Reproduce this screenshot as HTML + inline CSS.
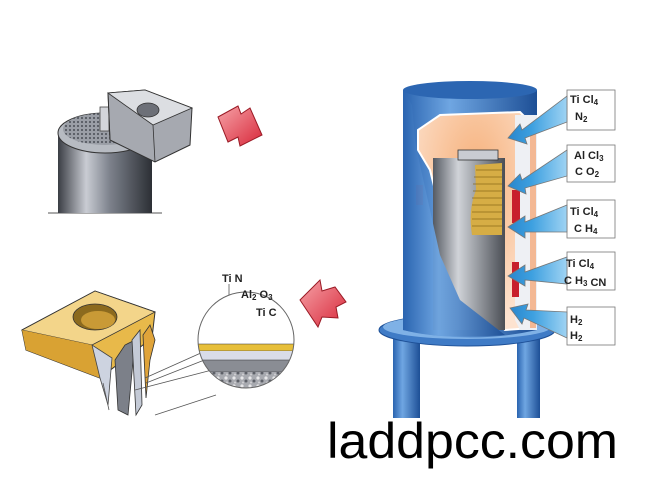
<!DOCTYPE html>
<html><head><meta charset="utf-8"><style>
html,body{margin:0;padding:0;background:#fff;}
svg{display:block}
text{font-family:"Liberation Sans",Arial,sans-serif;}
</style></head><body>
<svg width="650" height="488" viewBox="0 0 650 488" xmlns="http://www.w3.org/2000/svg">
<defs>
<linearGradient id="cyl" x1="0" x2="1" y1="0" y2="0">
<stop offset="0" stop-color="#3a3d44"/><stop offset="0.3" stop-color="#c9ccd3"/><stop offset="0.55" stop-color="#7d828c"/><stop offset="1" stop-color="#2c2f35"/></linearGradient>
<linearGradient id="blue" x1="0" x2="1"><stop offset="0" stop-color="#2a64b0"/><stop offset="0.35" stop-color="#6fa6e2"/><stop offset="1" stop-color="#1d4f96"/></linearGradient>
<linearGradient id="gray" x1="0" x2="1"><stop offset="0" stop-color="#555a62"/><stop offset="0.35" stop-color="#d0d3d8"/><stop offset="1" stop-color="#4a4e55"/></linearGradient>
<linearGradient id="arr" x1="1" x2="0"><stop offset="0" stop-color="#9fd3f3"/><stop offset="0.6" stop-color="#3da0e0"/><stop offset="1" stop-color="#2a86cc"/></linearGradient>
<linearGradient id="red" x1="0" x2="1" y1="0" y2="1"><stop offset="0" stop-color="#f6a3a8"/><stop offset="1" stop-color="#d8283a"/></linearGradient>
<radialGradient id="org" cx="0.5" cy="0.3" r="0.7"><stop offset="0" stop-color="#f6b07a"/><stop offset="1" stop-color="#fde3d0"/></radialGradient>
<pattern id="mesh" width="4" height="4" patternUnits="userSpaceOnUse"><rect width="4" height="4" fill="#9a9ea6"/><circle cx="2" cy="2" r="1" fill="#4a4e56"/></pattern>
<pattern id="grain" width="8" height="8" patternUnits="userSpaceOnUse"><rect width="8" height="8" fill="#a8aab0"/><circle cx="2" cy="2" r="1.6" fill="#e8e8ea"/><circle cx="6" cy="5" r="1.5" fill="#5d6068"/><circle cx="3" cy="6.5" r="1" fill="#d0d0d4"/></pattern>
<clipPath id="cc"><circle cx="246" cy="340" r="48"/></clipPath>
</defs>

<!-- top-left tool holder -->
<line x1="48" y1="213" x2="162" y2="213" stroke="#555" stroke-width="1"/>
<path d="M58 133 L58 213 L152 213 L152 133 Z" fill="url(#cyl)"/>
<ellipse cx="105" cy="133" rx="47" ry="20" fill="#b7bbc2" stroke="#333" stroke-width="1"/>
<ellipse cx="105" cy="129" rx="42" ry="16" fill="url(#mesh)"/>
<rect x="100" y="107" width="9" height="24" fill="#d3d5da" stroke="#444" stroke-width="0.8"/>
<path d="M108 93 L145 90 L192 108 L190 145 L155 162 L110 140 Z" fill="#a6a9b0" stroke="#333" stroke-width="1"/>
<path d="M108 93 L145 90 L192 108 L153 125 Z" fill="#dcdee2" stroke="#333" stroke-width="0.8"/>
<path d="M153 125 L155 162 M108 93 L110 140" stroke="#333" stroke-width="0.8" fill="none"/>
<ellipse cx="148" cy="110" rx="11" ry="7" fill="#6d7078" stroke="#333" stroke-width="0.8"/>
<path d="M218 117 L238 106 L241 114 L250 108 L262 135 L240 146 L238 137 L228 142 Z" fill="url(#red)" stroke="#9a1a25" stroke-width="1"/>

<!-- furnace -->
<rect x="393" y="330" width="27" height="88" fill="url(#blue)"/>
<rect x="517" y="330" width="23" height="88" fill="url(#blue)"/>
<ellipse cx="467" cy="330" rx="88" ry="16" fill="#3f7bc6" stroke="#1d4f96" stroke-width="1"/>
<ellipse cx="467" cy="327" rx="84" ry="12" fill="#7fb1e6"/>
<path d="M403 90 L403 330 Q470 345 537 330 L537 90 Z" fill="url(#blue)"/>
<ellipse cx="470" cy="90" rx="67" ry="9" fill="#2c66b2"/>
<path d="M418 130 L440 115 L520 112 L533 125 L533 328 L505 330 L470 300 L450 250 L430 170 L418 150 Z" fill="url(#org)" stroke="#fff" stroke-width="2"/>
<path d="M515 115 L537 115 L537 330 L520 330 L515 320 Z" fill="#eef0f4"/>
<path d="M533 125 L533 328" stroke="#f3b894" stroke-width="6"/>
<rect x="416" y="185" width="7" height="20" fill="#c8202c"/>
<rect x="512" y="190" width="8" height="33" fill="#c8202c"/>
<rect x="512" y="262" width="7" height="35" fill="#c8202c"/>
<rect x="433" y="158" width="72" height="172" fill="url(#gray)"/>
<rect x="458" y="150" width="40" height="10" fill="#c9ccd2" stroke="#333" stroke-width="0.8"/>
<path d="M475 165 L502 163 L502 235 L472 235 Q468 210 476 190 Z" fill="#d6ad45"/>
<g stroke="#8a6a1a" stroke-width="0.8">
<line x1="476" y1="170" x2="502" y2="170"/><line x1="474" y1="177" x2="502" y2="177"/><line x1="473" y1="184" x2="502" y2="184"/><line x1="473" y1="191" x2="502" y2="191"/><line x1="472" y1="198" x2="502" y2="198"/><line x1="472" y1="205" x2="502" y2="205"/><line x1="472" y1="212" x2="502" y2="212"/><line x1="472" y1="219" x2="502" y2="219"/><line x1="472" y1="226" x2="502" y2="226"/></g>
<path d="M403 90 L403 330 Q440 340 505 335 L460 300 L440 255 L420 165 L415 140 L412 105 Z" fill="url(#blue)" opacity="0.95"/>

<!-- gas labels -->
<g stroke="#777" stroke-width="0.8">
<rect x="567" y="90" width="48" height="40" fill="#fff"/>
<rect x="567" y="145" width="48" height="37" fill="#fff"/>
<rect x="567" y="200" width="48" height="38" fill="#fff"/>
<rect x="567" y="252" width="48" height="38" fill="#fff"/>
<rect x="567" y="307" width="48" height="38" fill="#fff"/>
<path d="M567 96 L567 122 L525 138 L527 144 L508 138 L520 124 L522 130 Z" fill="url(#arr)"/>
<path d="M567 150 L567 176 L525 188 L526 194 L508 186 L520 174 L522 180 Z" fill="url(#arr)"/>
<path d="M567 205 L567 232 L525 232 L525 238 L508 227 L525 216 L525 222 Z" fill="url(#arr)"/>
<path d="M567 257 L567 284 L525 280 L525 286 L508 276 L525 265 L525 272 Z" fill="url(#arr)"/>
<path d="M567 312 L567 338 L524 318 L522 324 L510 308 L528 304 L526 310 Z" fill="url(#arr)"/>
</g>
<g font-size="11" font-weight="bold" fill="#222">
<text x="570" y="103">Ti Cl<tspan font-size="8" dy="2">4</tspan></text><text x="575" y="120">N<tspan font-size="8" dy="2">2</tspan></text>
<text x="574" y="159">Al Cl<tspan font-size="8" dy="2">3</tspan></text><text x="575" y="175">C O<tspan font-size="8" dy="2">2</tspan></text>
<text x="570" y="215">Ti Cl<tspan font-size="8" dy="2">4</tspan></text><text x="574" y="232">C H<tspan font-size="8" dy="2">4</tspan></text>
<text x="566" y="267">Ti Cl<tspan font-size="8" dy="2">4</tspan></text><text x="564" y="284">C H<tspan font-size="8" dy="2">3</tspan> CN</text>
<text x="570" y="323">H<tspan font-size="8" dy="2">2</tspan></text><text x="570" y="339">H<tspan font-size="8" dy="2">2</tspan></text>
</g>

<path d="M300 300 L320 280 L322 291 L335 287 L346 302 L336 307 L338 318 L322 317 L318 327 Z" fill="url(#red)" stroke="#9a1a25" stroke-width="1"/>

<!-- bottom-left insert -->
<path d="M22 330 L95 291 L155 312 L152 338 L100 378 L26 350 Z" fill="#e8b94a" stroke="#333" stroke-width="1"/>
<path d="M22 330 L95 291 L155 312 L92 345 Z" fill="#f3d58a" stroke="#333" stroke-width="0.8"/>
<path d="M26 350 L22 330 L92 345 L100 378 Z" fill="#d9a233"/>
<ellipse cx="95" cy="317" rx="22" ry="13" fill="#8c6a1e" stroke="#333" stroke-width="0.8"/>
<ellipse cx="98" cy="320" rx="17" ry="9" fill="#c99a36"/>
<path d="M92 345 L100 378 L108 405 L112 358 Z" fill="#cdd3e0" stroke="#444" stroke-width="0.8"/>
<path d="M115 360 L125 345 L135 340 L128 415 L118 410 Z" fill="#7c8089" stroke="#333" stroke-width="0.8"/>
<path d="M132 340 L140 330 L142 405 L136 415 Z" fill="#c4cad6" stroke="#333" stroke-width="0.8"/>
<path d="M143 335 L150 325 L155 340 L150 360 L146 398 Z" fill="#e0a43a" stroke="#333" stroke-width="0.8"/>
<g stroke="#555" stroke-width="0.8" fill="none">
<line x1="103" y1="383" x2="109" y2="410"/>
<line x1="145" y1="378" x2="212" y2="348"/><line x1="146" y1="383" x2="212" y2="357"/>
<line x1="135" y1="390" x2="212" y2="370"/><line x1="155" y1="415" x2="216" y2="395"/>
<line x1="229" y1="284" x2="229" y2="345"/><line x1="246" y1="302" x2="246" y2="358"/><line x1="262" y1="320" x2="262" y2="372"/>
</g>
<g clip-path="url(#cc)">
<rect x="190" y="290" width="110" height="100" fill="#fff"/>
<rect x="190" y="344" width="110" height="7" fill="#e7bf3a" stroke="#333" stroke-width="0.5"/>
<rect x="190" y="351" width="110" height="9" fill="#d9dce8"/>
<rect x="190" y="360" width="110" height="12" fill="#8a8d94" stroke="#333" stroke-width="0.5"/>
<rect x="190" y="372" width="110" height="20" fill="url(#grain)"/>
</g>
<circle cx="246" cy="340" r="48" fill="none" stroke="#666" stroke-width="1"/>
<g font-size="11" font-weight="bold" fill="#222">
<text x="222" y="282">Ti N</text>
<text x="241" y="298">Al<tspan font-size="8" dy="2">2</tspan><tspan dy="-2"> O</tspan><tspan font-size="8" dy="2">3</tspan></text>
<text x="256" y="316">Ti C</text>
</g>

<text x="327" y="458" font-size="50" fill="#000" textLength="291" lengthAdjust="spacingAndGlyphs">laddpcc.com</text>
</svg>
</body></html>
